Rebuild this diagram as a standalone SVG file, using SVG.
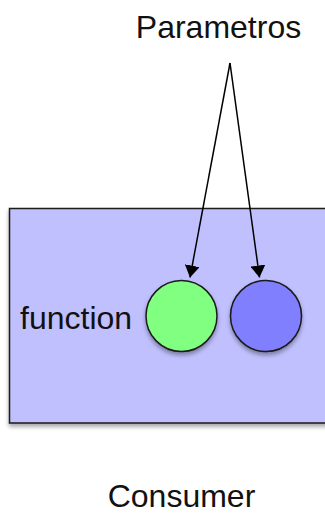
<svg xmlns="http://www.w3.org/2000/svg" width="325" height="513" viewBox="0 0 325 513">
<style>
  text { font-family: "Liberation Sans", Arial, sans-serif; font-size: 32px; fill: #111; }
  .shape { stroke: #1a1a1a; stroke-width: 1.5; filter: url(#shadow); }
  .conn { stroke: #000; stroke-width: 1.5; fill: none; marker-end: url(#arrow); }
</style>
<defs>
  <filter id="shadow" x="-20%" y="-20%" width="140%" height="150%">
    <feDropShadow dx="0" dy="3" stdDeviation="2" flood-color="#000" flood-opacity="0.35"/>
  </filter>
  <marker id="arrow" viewBox="0 0 12 15" refX="12" refY="7.5" markerWidth="12" markerHeight="15" markerUnits="userSpaceOnUse" orient="auto">
    <path d="M0,0 L12,7.5 L0,15 Z" fill="#000"/>
  </marker>
</defs>
<g id="consumer">
  <rect class="shape" x="9.5" y="208.5" width="330" height="214.5" fill="#C0C0FF"/>
  <text x="181.5" y="506.5" text-anchor="middle">Consumer</text>
</g>
<g id="function-label">
  <text x="20" y="328.5">function</text>
</g>
<g id="param-green">
  <circle class="shape" cx="181.5" cy="316" r="35.5" fill="#80FF80"/>
</g>
<g id="param-blue">
  <circle class="shape" cx="266" cy="316" r="35.5" fill="#8080FF"/>
</g>
<g id="parametros">
  <text x="218.5" y="37.7" text-anchor="middle">Parametros</text>
</g>
<g id="connectors">
  <line class="conn" x1="230" y1="63" x2="190" y2="277.5"/>
  <line class="conn" x1="230" y1="63" x2="259.5" y2="277.5"/>
</g>
</svg>
